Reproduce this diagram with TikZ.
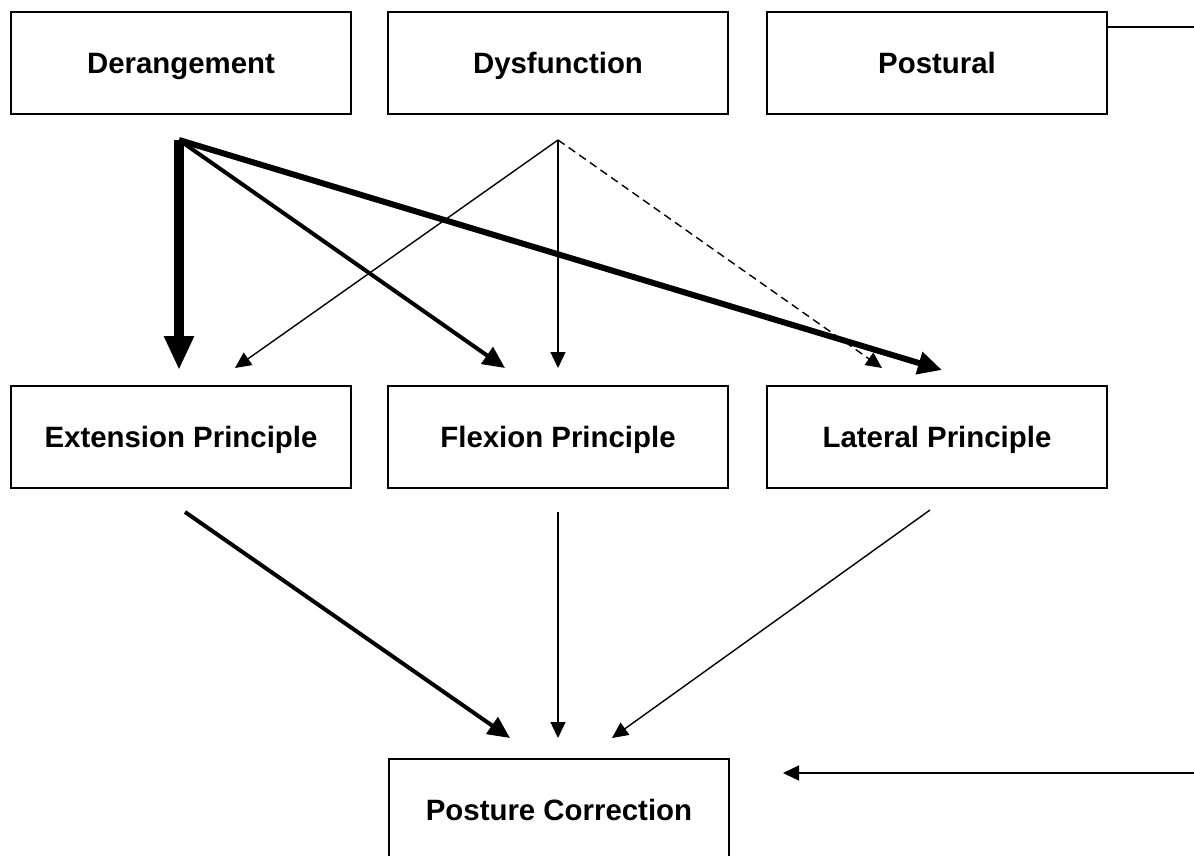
\documentclass[tikz,border=0pt]{standalone}
\usepackage{fontspec}
\setmainfont{Liberation Sans}
\usepackage{tikz}
\usetikzlibrary{arrows.meta, positioning}

\begin{document}
\begin{tikzpicture}[x=0.5pt, y=-0.5pt]

		\tikzstyle{cat}=[draw=black, line width=0.75pt, minimum width=170pt, minimum height=51pt, inner sep=0pt, text height=10.6pt, text depth=0pt, font=\fontsize{14.7}{17}\selectfont\bfseries]
		\tikzstyle{lnk}=[line width=0.7pt, -{Triangle[length=8pt, width=7.5pt]}]
		\tikzstyle{bold}=[line width=2pt, -{Triangle[length=11pt, width=10pt]}]

		\useasboundingbox (0,0) rectangle (1194,856);
		\clip (0,0) rectangle (1194,856);

		\node (der) at (181,63) [cat] {Derangement};
		\node (dys) at (558,63) [cat] {Dysfunction};
		\node (pos) at (937,63) [cat] {Postural};

		\node (ext) at (181,437) [cat] {Extension Principle};
		\node (flx) at (558,437) [cat] {Flexion Principle};
		\node (lat) at (937,437) [cat] {Lateral Principle};

		\node (cor) at (559,810) [cat] {Posture Correction};

		\coordinate (derhub) at (179,140);
		\coordinate (dyshub) at (558,140);

		\coordinate (extin1) at (179,370);
		\coordinate (extin2) at (235,368);
		\coordinate (flxin1) at (505,368);
		\coordinate (flxin2) at (558,368);
		\coordinate (latin1) at (882,368);
		\coordinate (latin2) at (942,370);

		\coordinate (extout) at (185,512);
		\coordinate (flxout) at (558,512);
		\coordinate (latout) at (930,510);
		\coordinate (corin1) at (510,738);
		\coordinate (corin2) at (558,738);
		\coordinate (corin3) at (612,738);

		\coordinate (posend) at (1194,27);
		\coordinate (rgtend) at (1194,773);
		\coordinate (corin4) at (783,773);

		%% from derangement
		\draw [line width=5pt, -{Triangle[length=17pt, width=14pt]}] (derhub) -- (extin1);
		\draw [bold] (derhub) -- (flxin1);
		\draw [bold, line width=3pt, -{Triangle[length=12pt, width=11pt]}] (derhub) -- (latin2);

		%% from dysfunction
		\draw [lnk] (dyshub) -- (extin2);
		\draw [lnk] (dyshub) -- (flxin2);
		\draw [lnk, dash pattern=on 4pt off 2.5pt] (dyshub) -- (latin1);

		\draw [bold] (extout) -- (corin1);
		\draw [lnk] (flxout) -- (corin2);
		\draw [lnk] (latout) -- (corin3);

		\draw [line width=0.7pt] (pos.east |- posend) -- (posend);
		\draw [lnk] (rgtend) -- (corin4);

\end{tikzpicture}
\end{document}
